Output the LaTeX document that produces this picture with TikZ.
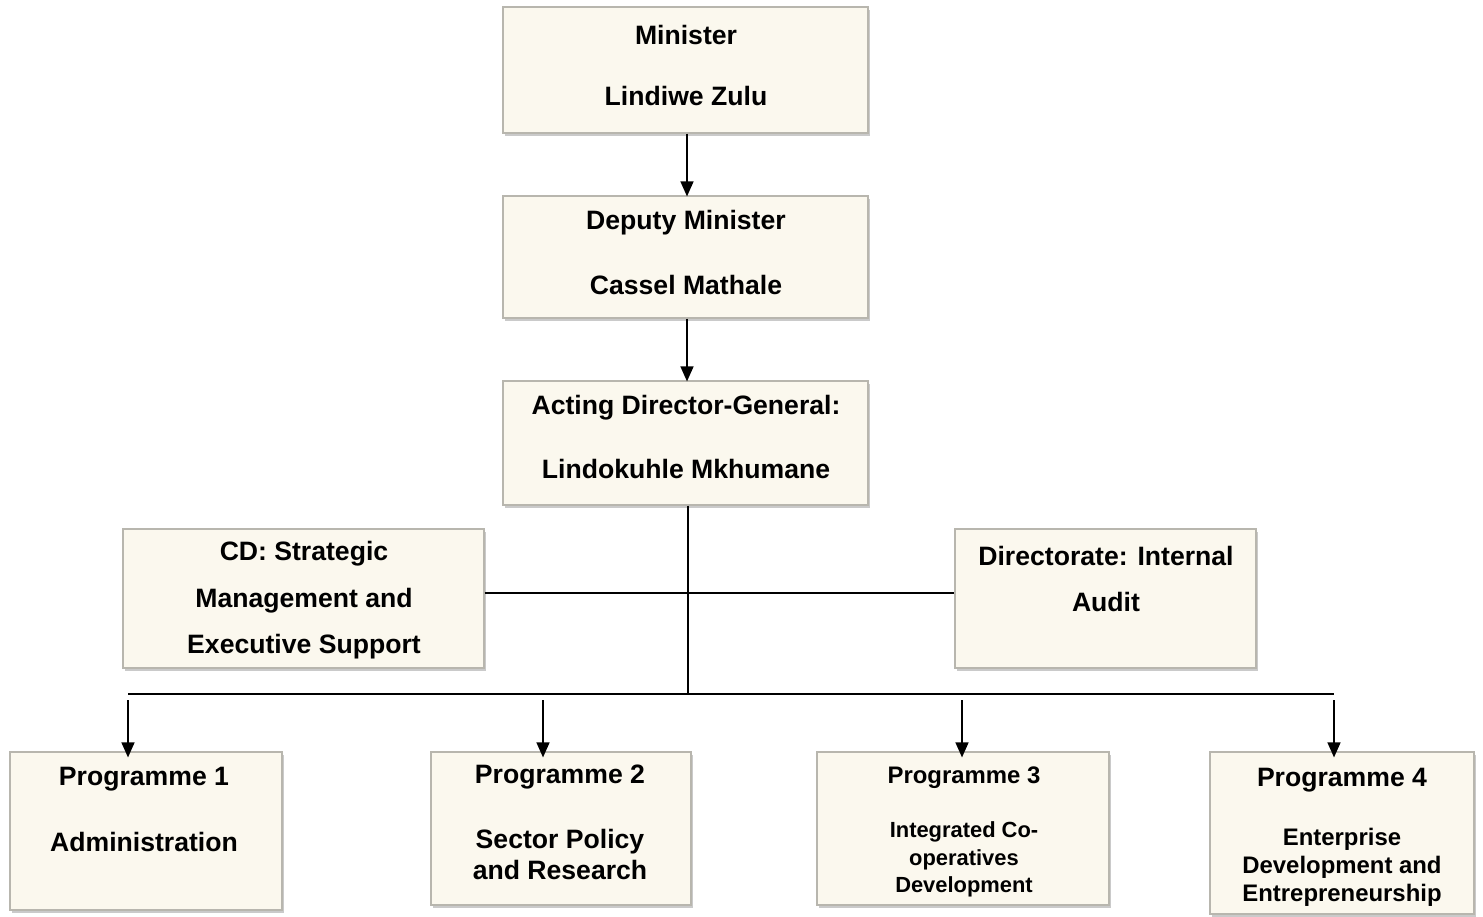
\documentclass[tikz,border=0pt]{standalone}
\usepackage{fontspec}
\setmainfont{Liberation Sans}
\usetikzlibrary{arrows.meta,shadows}
\definecolor{cream}{HTML}{FBF8EE}
\definecolor{bevel}{HTML}{B8B6AE}
\tikzset{
  box/.style={rectangle, fill=cream, draw=bevel, line width=1.2pt, inner sep=0pt,
    drop shadow={opacity=0.35, shadow xshift=1.5pt, shadow yshift=-3pt, fill=black!60}},
  txt/.style={font=\bfseries\fontsize{26.6}{31}\selectfont, align=center, inner sep=0pt},
  txtm/.style={font=\bfseries\fontsize{23.9}{28}\selectfont, align=center, inner sep=0pt},
  txts/.style={font=\bfseries\fontsize{21.9}{27.5}\selectfont, align=center, inner sep=0pt},
  conn/.style={line width=1.4pt, black},
  arr/.style={conn, -{Triangle[length=15pt,width=13pt]}}
}
\begin{document}
\begin{tikzpicture}[x=1pt,y=-1pt]
\useasboundingbox (0,0) rectangle (1483,916);
% boxes
\node[box, minimum width=365pt, minimum height=126pt] (min) at (685.5,70) {};
\node[box, minimum width=365pt, minimum height=122pt] (dep) at (685.5,257) {};
\node[box, minimum width=365pt, minimum height=124pt] (adg) at (685.5,443) {};
\node[box, minimum width=361pt, minimum height=139pt] (cd) at (303.5,598.5) {};
\node[box, minimum width=301pt, minimum height=139pt] (ia) at (1105.5,598.5) {};
\node[box, minimum width=272pt, minimum height=158pt] (p1) at (146,831) {};
\node[box, minimum width=260pt, minimum height=153pt] (p2) at (561,828.5) {};
\node[box, minimum width=292pt, minimum height=153pt] (p3) at (963,828.5) {};
\node[box, minimum width=264pt, minimum height=162pt] (p4) at (1342,833) {};
% texts
\node[txt] (minA) at (686,35) {Minister};
\node[txt] (minB) at (686,96) {Lindiwe Zulu};
\node[txt] (depA) at (686,223) {Deputy Minister};
\node[txt] (depB) at (686,285) {Cassel Mathale};
\node[txt] (adgA) at (686,408) {Acting Director-General:};
\node[txt] (adgB) at (686,469) {Lindokuhle Mkhumane};
\node[txt] (cdA) at (304,554) {CD: Strategic};
\node[txt] (cdB) at (304,601) {Management and};
\node[txt] (cdC) at (304,647) {Executive Support};
\node[txt] (iaA) at (1106,556) {Directorate: Internal};
\node[txt] (iaB) at (1106,602) {Audit};
\node[txt] (p1A) at (144,779) {Programme 1};
\node[txt] (p1B) at (144,842) {Administration};
\node[txt] (p2A) at (560,777) {Programme 2};
\node[txt] (p2B) at (560,854.5) {Sector Policy\\and Research};
\node[txtm] (p3A) at (964,778) {Programme 3};
\node[txts] (p3B) at (964,859.5) {Integrated Co-\\operatives\\Development};
\node[txt] (p4A) at (1342,780) {Programme 4};
\node[txtm] (p4B) at (1342,867.5) {Enterprise\\Development and\\Entrepreneurship};
% connector points
\coordinate (bus) at (688,694);
\coordinate (busL) at (128,694);
\coordinate (busR) at (1334,694);
\coordinate (mid) at (0,593);
\coordinate (a1) at (128,700);
\coordinate (a2) at (543,700);
\coordinate (a3) at (962,700);
\coordinate (a4) at (1334,700);
% connectors
\draw[arr] (min.south -| 687,0) -- ([yshift=-1pt]dep.north -| 687,0);
\draw[arr] (dep.south -| 687,0) -- ([yshift=-1pt]adg.north -| 687,0);
\draw[conn] (adg.south -| bus) -- (bus);
\draw[conn] (cd.east |- mid) -- (ia.west |- mid);
\draw[conn] (busL) -- (busR);
\draw[arr] (a1) -- ([yshift=-6pt]p1.north -| a1);
\draw[arr] (a2) -- ([yshift=-6pt]p2.north -| a2);
\draw[arr] (a3) -- ([yshift=-6pt]p3.north -| a3);
\draw[arr] (a4) -- ([yshift=-6pt]p4.north -| a4);
\end{tikzpicture}
\end{document}
